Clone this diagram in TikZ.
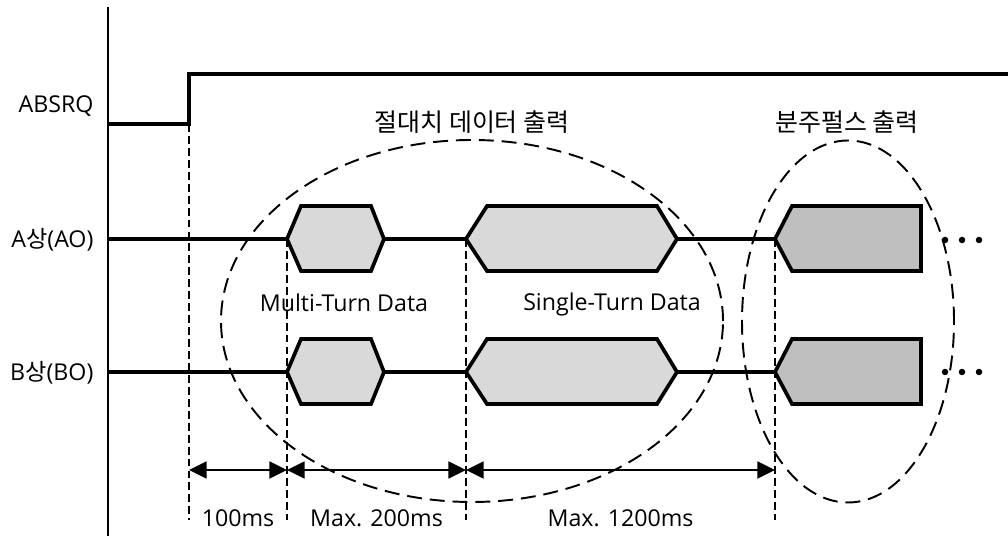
\documentclass[tikz,border=0pt]{standalone}
\usepackage{fontspec}
\setmainfont{Open Sans}
\newfontfamily\krfont{Noto Sans CJK KR}
\usepackage{xcolor}
\usetikzlibrary{
arrows.meta,
positioning,
calc
}
\definecolor{cellgray}{HTML}{D9D9D9}
\definecolor{pulsegray}{HTML}{BFBFBF}

\begin{document}
\begin{tikzpicture}[
    line width=1.8pt,
    font=\fontsize{13.2}{15}\selectfont,
    signal/.style={line width=1.9pt},
    datacell/.style={line width=2.1pt, fill=cellgray, line join=miter},
    pulsecell/.style={datacell, fill=pulsegray},
    guide/.style={line width=1.1pt, dash pattern=on 4.5pt off 2.3pt},
    group/.style={line width=1.1pt, dash pattern=on 8.5pt off 4.5pt},
    title/.style={font=\krfont\fontsize{14.2}{16}\selectfont},
    dimarrow/.style={line width=1.6pt, {Triangle[length=10pt,width=9.5pt]}-{Triangle[length=10pt,width=9.5pt]}}
]

    \useasboundingbox (0,0) rectangle (20.16,10.72);

    % ==================== SIGNAL LABELS ====================
    \node [anchor=east, inner sep=0pt] (absrq) at (1.9, 8.6) {ABSRQ};
    \node [anchor=east, inner sep=0pt] (pha) at (1.9, 5.92) {A{\krfont 상}(AO)};
    \node [anchor=east, inner sep=0pt] (phb) at (1.9, 3.26) {B{\krfont 상}(BO)};

    % ==================== TIME MARKS ====================
    \coordinate (t0) at (3.78, 1.32);
    \coordinate (t1) at (5.74, 1.32);
    \coordinate (t2) at (9.32, 1.32);
    \coordinate (t3) at (15.5, 1.32);

    % Dashed guides down from the edges
    \draw [guide] (3.78, 8.24) -- (3.78, 0.32);
    \draw [guide] (5.74, 5.94) -- (5.74, 0.32);
    \draw [guide] (9.32, 5.94) -- (9.32, 0.32);
    \draw [guide] (15.5, 5.94) -- (15.5, 0.32);

    % ==================== WAVEFORMS ====================
    % Time axis
    \draw [line width=1.7pt] (2.16, 10.58) -- (2.16, 0);

    % 1. ABSRQ request goes high
    \draw [signal] (2.16, 8.24) -- (3.78, 8.24) -- (3.78, 9.24) -- (20.16, 9.24);

    % 2. A phase line
    \draw [signal] (2.16, 5.94) -- (15.5, 5.94);

    % 3. B phase line
    \draw [signal] (2.16, 3.28) -- (15.5, 3.28);

    % Multi-turn data cells
    \draw [datacell] (5.74, 5.94) -- (6.02, 6.6) -- (7.42, 6.6) -- (7.68, 5.94) -- (7.42, 5.3) -- (6.02, 5.3) -- cycle;
    \draw [datacell] (5.74, 3.28) -- (6.02, 3.94) -- (7.42, 3.94) -- (7.68, 3.28) -- (7.42, 2.64) -- (6.02, 2.64) -- cycle;

    % Single-turn data cells
    \draw [datacell] (9.32, 5.94) -- (9.74, 6.6) -- (13.14, 6.6) -- (13.54, 5.94) -- (13.14, 5.3) -- (9.74, 5.3) -- cycle;
    \draw [datacell] (9.32, 3.28) -- (9.74, 3.94) -- (13.14, 3.94) -- (13.54, 3.28) -- (13.14, 2.64) -- (9.74, 2.64) -- cycle;

    % Divided pulse output cells
    \draw [pulsecell] (15.5, 5.94) -- (15.84, 6.6) -- (18.42, 6.6) -- (18.42, 5.3) -- (15.84, 5.3) -- cycle;
    \draw [pulsecell] (15.5, 3.28) -- (15.84, 3.94) -- (18.42, 3.94) -- (18.42, 2.64) -- (15.84, 2.64) -- cycle;

    % Continuation dots
    \fill (18.9, 5.92) circle (0.065) (19.24, 5.92) circle (0.065) (19.58, 5.92) circle (0.065);
    \fill (18.9, 3.28) circle (0.065) (19.24, 3.28) circle (0.065) (19.58, 3.28) circle (0.065);

    % ==================== GROUPS ====================
    \draw [group] (9.44, 4.3) ellipse [x radius=5.02, y radius=3.62];
    \draw [group] (16.96, 4.29) ellipse [x radius=2.12, y radius=3.62];

    \node [title] (absout) at (9.44, 8.28) {절대치 데이터 출력};
    \node [title] (pulseout) at (16.94, 8.28) {분주펄스 출력};

    \node (multi) at (6.88, 4.66) {Multi-Turn Data};
    \node (single) at (12.24, 4.64) {Single-Turn Data};

    % ==================== DURATIONS ====================
    \draw [dimarrow] (t0) -- (t1);
    \draw [dimarrow] (t1) -- (t2);
    \draw [dimarrow] (t2) -- (t3);

    \node (d100) at ($(t0)!0.5!(t1) + (0, -0.96)$) {100ms};
    \node (d200) at ($(t1)!0.5!(t2) + (0, -0.96)$) {Max. 200ms};
    \node (d1200) at ($(t2)!0.5!(t3) + (0, -0.96)$) {Max. 1200ms};

\end{tikzpicture}
\end{document}
